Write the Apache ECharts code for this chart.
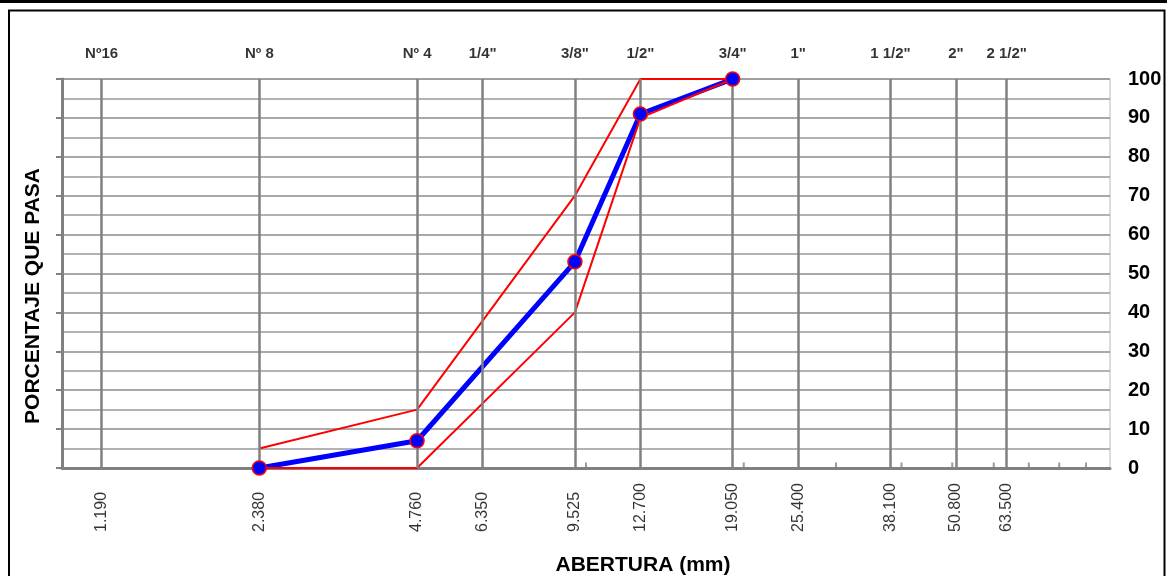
<!DOCTYPE html>
<html>
<head>
<meta charset="utf-8">
<script src="https://cdn.jsdelivr.net/npm/echarts@6/dist/echarts.min.js"></script>
<style>
html,body{margin:0;padding:0;background:#fff;}
#chart{width:1167px;height:576px;}
</style>
</head>
<body>
<div id="chart"></div>
<script>
// Sieve sizes (mm) and names
var sieveSizes = [1.19, 2.38, 4.76, 6.35, 9.525, 12.7, 19.05, 25.4, 38.1, 50.8, 63.5];
var sieveNames = ['Nº16', 'Nº 8', 'Nº 4', '1/4"', '3/8"', '1/2"', '3/4"', '1"', '1 1/2"', '2"', '2 1/2"'];
var sizeLabels = ['1.190', '2.380', '4.760', '6.350', '9.525', '12.700', '19.050', '25.400', '38.100', '50.800', '63.500'];
// Minor ticks on bottom axis
var minorTickValues = [10, 20, 30, 40, 50, 60, 70, 80, 90];
// Curves
var curveX = [2.38, 4.76, 9.525, 12.7, 19.05];
var passing = [0, 7, 53, 91, 100];
var upperLimit = [5, 15, 70, 100, 100];
var lowerLimit = [0, 0, 40, 90, 100];

function pairs(xs, ys) { return xs.map(function (x, i) { return [x, ys[i]]; }); }

var chart = echarts.init(document.getElementById('chart'));
var FONT = 'Liberation Sans, Arial, sans-serif';
var GRAY = '#808080';

chart.setOption({
  animation: false,
  grid: { left: 62, right: 57, top: 79, bottom: 108, show: true, borderColor: '#b8b8b8', borderWidth: 1 },
  xAxis: {
    type: 'log', logBase: 10, min: 1, max: 100,
    axisLine: { show: true, lineStyle: { color: GRAY, width: 3 } },
    axisTick: { show: false },
    axisLabel: { show: false },
    splitLine: { show: false },
    minorTick: { show: false },
    minorSplitLine: { show: false }
  },
  yAxis: [{
    type: 'value', min: 0, max: 100, interval: 10, position: 'left',
    axisLine: { show: true, lineStyle: { color: GRAY, width: 3 } },
    axisTick: { show: true, length: 6, lineStyle: { color: GRAY, width: 2 } },
    axisLabel: { show: false },
    splitLine: { show: true, lineStyle: { color: '#8c8c8c', width: 1.5 } },
    minorTick: { show: false, splitNumber: 2 },
    minorSplitLine: { show: true, lineStyle: { color: '#9a9a9a', width: 1.5 } }
  }, {
    type: 'value', min: 0, max: 100, interval: 10, position: 'right',
    axisLine: { show: false }, axisTick: { show: false },
    splitLine: { show: false },
    axisLabel: { show: true, margin: 18, color: '#000', fontFamily: FONT, fontWeight: 'bold', fontSize: 20 }
  }],
  series: [
    {
      type: 'line', data: [], silent: true,
      markLine: {
        silent: true, symbol: 'none', animation: false,
        label: { show: false },
        lineStyle: { color: GRAY, width: 2.5, type: 'solid' },
        data: sieveSizes.map(function (v) { return { xAxis: v }; })
      }
    },
    {
      type: 'scatter', silent: true, symbolSize: 0, z: 1,
      data: sieveSizes.map(function (v) { return [v, 100]; }),
      label: {
        show: true, position: [0, -25], align: 'center', verticalAlign: 'middle',
        color: '#000', fontFamily: FONT, fontWeight: 'bold', fontSize: 15,
        formatter: function (p) { return sieveNames[p.dataIndex]; }
      }
    },
    {
      type: 'scatter', silent: true, symbolSize: 0, z: 1,
      data: sieveSizes.map(function (v) { return [v, 0]; }),
      label: {
        show: true, position: [0, 64], rotate: 90, align: 'left', verticalAlign: 'middle',
        color: '#000', fontFamily: FONT, fontSize: 16,
        formatter: function (p) { return sizeLabels[p.dataIndex]; }
      }
    },
    {
      type: 'scatter', silent: true, symbol: 'rect', symbolSize: [2, 5], symbolOffset: [0, -3],
      itemStyle: { color: GRAY },
      data: minorTickValues.map(function (v) { return [v, 0]; })
    },
    {
      type: 'line', data: pairs(curveX, passing), z: 3, symbol: 'none',
      lineStyle: { color: '#0000ff', width: 5 }
    },
    {
      type: 'line', data: pairs(curveX, upperLimit), z: 4, symbol: 'none',
      lineStyle: { color: '#ff0000', width: 2 }
    },
    {
      type: 'line', data: pairs(curveX, lowerLimit), z: 4, symbol: 'none',
      lineStyle: { color: '#ff0000', width: 2 }
    },
    {
      type: 'scatter', data: pairs(curveX, passing), z: 5,
      symbol: 'circle', symbolSize: 14,
      itemStyle: { color: '#0000ff', borderColor: '#ff0000', borderWidth: 1.5, opacity: 1 }
    }
  ],
  graphic: [
    { type: 'line', shape: { x1: 0, y1: 1.5, x2: 1167, y2: 1.5 }, style: { stroke: '#000', lineWidth: 3 } },
    { type: 'rect', shape: { x: 9, y: 10.5, width: 1155.5, height: 600 }, style: { fill: 'none', stroke: '#000', lineWidth: 2 } },
    { type: 'text', x: 33, y: 296, rotation: Math.PI / 2,
      style: { text: 'PORCENTAJE QUE PASA', fontFamily: FONT, fontWeight: 'bold', fontSize: 21, fill: '#000', align: 'center', verticalAlign: 'middle' } },
    { type: 'text', x: 643, y: 565,
      style: { text: 'ABERTURA (mm)', fontFamily: FONT, fontWeight: 'bold', fontSize: 21, fill: '#000', align: 'center', verticalAlign: 'middle' } }
  ]
});
</script>
</body>
</html>
